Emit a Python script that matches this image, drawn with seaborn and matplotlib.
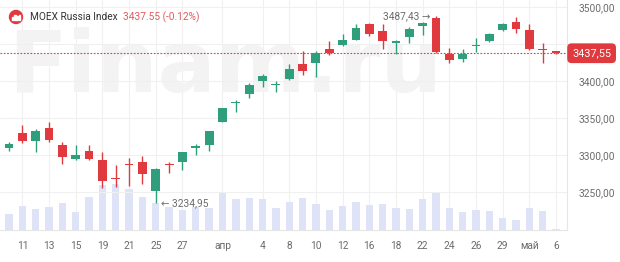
import matplotlib
matplotlib.use("Agg")
import matplotlib.pyplot as plt
import seaborn as sns
import numpy as np
import pandas as pd
from matplotlib.patches import Ellipse, Rectangle

# ---- data ----
dates = ["07.03", "11.03", "12.03", "13.03", "14.03", "15.03", "18.03", "19.03", "20.03", "21.03",
         "22.03", "25.03", "26.03", "27.03", "28.03", "29.03", "01.04", "02.04", "03.04", "04.04",
         "05.04", "08.04", "09.04", "10.04", "11.04", "12.04", "15.04", "16.04", "17.04", "18.04",
         "19.04", "22.04", "23.04", "24.04", "25.04", "26.04", "27.04", "29.04", "30.04", "02.05",
         "03.05", "06.05"]
opens = [3310, 3330, 3319, 3336, 3314, 3295, 3305, 3293, 3269, 3288,
         3291, 3251, 3287, 3291, 3309, 3313, 3345, 3370, 3382, 3400,
         3394, 3403, 3423, 3424, 3443, 3448, 3456, 3477, 3468, 3452,
         3460, 3475, 3485, 3437, 3430, 3447, 3454, 3469, 3480, 3469,
         3443, 3440]
highs = [3318, 3340, 3335, 3344, 3318, 3313, 3313, 3304, 3286, 3296,
         3299, 3282, 3291, 3304, 3315, 3333, 3364, 3375, 3397, 3410,
         3400, 3423, 3441, 3440, 3454, 3463, 3477, 3478, 3477, 3456,
         3473, 3480, 3487.43, 3444, 3443, 3458, 3465, 3479, 3486, 3477,
         3451, 3441]
lows = [3305, 3316, 3304, 3317, 3288, 3293, 3293, 3255, 3257, 3258,
        3261, 3234.95, 3276, 3280, 3300, 3305, 3344, 3358, 3377, 3392,
        3385, 3402, 3408, 3406, 3435, 3447, 3455, 3461, 3443, 3437,
        3452, 3462, 3438, 3424, 3426, 3439, 3453, 3468, 3465, 3442,
        3425, 3436]
closes = [3315, 3319, 3332, 3320, 3297, 3300, 3295, 3265, 3267, 3287,
          3274, 3281, 3286, 3304, 3312, 3332, 3363, 3371, 3395, 3407,
          3395, 3416, 3413, 3438, 3438, 3455, 3471, 3463, 3454, 3454,
          3470, 3479, 3439, 3428, 3437, 3449, 3464, 3477, 3470, 3443,
          3442, 3437.55]
volumes = [15.7, 24, 21, 23.3, 26.7, 18.3, 33.3, 45, 46, 41,
           33.3, 27.3, 23.3, 20, 23.3, 22.3, 38.3, 31, 32.3, 31,
           22.3, 27.7, 32.5, 26, 20, 24, 28.3, 25.3, 26, 21.7,
           20.7, 31, 38, 22.3, 18.3, 20, 19, 12.3, 10, 21.7,
           19, 1]
tick_pos = [1, 3, 5, 7, 9, 11, 13, 16, 19, 21, 23, 25, 27, 29, 31, 33, 35, 37, 39, 41]
tick_labels = ["11", "13", "15", "19", "21", "25", "27", "апр", "4", "8", "10", "12",
               "16", "18", "22", "24", "26", "29", "май", "6"]
price_ticks = [3250, 3300, 3350, 3400, 3450, 3500]
price_labels = ["3250,00", "3300,00", "3350,00", "3400,00", "", "3500,00"]  # 3450 hidden by price tag
last_price = 3437.55
title = "MOEX Russia Index"
subtitle = "3437.55 (-0.12%)"
max_label = "3487,43"
min_label = "3234,95"

GREEN = "#2f9e7c"
RED = "#e0393e"
VOL = "#dfe3f8"
GRID = "#f0f0f0"
TXT = "#6b6b6b"

sns.set_theme(style="white")
plt.rcParams["font.family"] = ["Roboto", "DejaVu Sans"]

df = pd.DataFrame({"i": np.arange(len(dates)), "date": dates, "open": opens, "high": highs,
                   "low": lows, "close": closes, "volume": volumes})
df["up"] = df["close"] >= df["open"]

fig = plt.figure(figsize=(6.2, 2.62), dpi=100)
ax = fig.add_axes([0.0, 32 / 262, 567 / 620, 230 / 262])
axv = ax.twinx()
ax.set_zorder(axv.get_zorder() + 1)
ax.patch.set_visible(False)

# volume bars (background)
sns.barplot(data=df, x="i", y="volume", native_scale=True, color=VOL, saturation=1,
            width=0.55, ax=axv, linewidth=0)
axv.set_ylim(0, 230)
axv.set_yticks([])
axv.set_ylabel("")
axv.set_xlabel("")
for s in axv.spines.values():
    s.set_visible(False)

for p in tick_pos:
    axv.axvline(p, color=GRID, lw=0.8, zorder=0)

# watermark
axv.text(0.015, 0.60, "Finam.ru", transform=axv.transAxes, fontsize=62, fontweight="bold",
         color="#f3f3f3", family="DejaVu Sans", ha="left", va="baseline", zorder=0)

# candles
colors = [GREEN if u else RED for u in df["up"]]
ax.vlines(df["i"], df["low"], df["high"], colors=colors, lw=1.0, zorder=3)
body_bottom = np.minimum(df["open"], df["close"])
body_h = np.maximum(np.abs(df["close"] - df["open"]), 1.3)
ax.bar(df["i"], body_h, bottom=body_bottom, width=0.66, color=colors, zorder=4, linewidth=0)

ax.set_xlim(-0.675, 41.82)
ax.set_ylim(3198.6, 3509.5)
for p in price_ticks:
    ax.axhline(p, color=GRID, lw=0.8, zorder=0)

ax.yaxis.tick_right()
ax.set_yticks(price_ticks)
ax.set_yticklabels(price_labels)
ax.set_xticks(tick_pos)
ax.set_xticklabels(tick_labels)
ax.tick_params(axis="y", length=0, pad=8, labelsize=7.3, labelcolor=TXT)
ax.tick_params(axis="x", length=0, pad=8, labelsize=7.3, labelcolor=TXT)
ax.set_xlabel("")
ax.set_ylabel("")
for k, s in ax.spines.items():
    s.set_visible(k in ("right", "bottom"))
    s.set_color("#e6e6e6")
    s.set_linewidth(0.8)

# last price line and label
ax.axhline(last_price, color=RED, lw=0.8, ls=(0, (1.5, 1.5)), zorder=2)
ax.text(1.009, last_price, f"{last_price:.2f}".replace(".", ","), transform=ax.get_yaxis_transform(),
        ha="left", va="center", fontsize=7.8, color="white", zorder=10, clip_on=False,
        bbox=dict(boxstyle="round,pad=0.45,rounding_size=0.4", fc=RED, ec="none"))

# max / min annotations
ax.text(32 - 0.45, 3487.43, max_label + " →", ha="right", va="center", fontsize=7.3,
        color=TXT, zorder=6)
ax.text(11 + 0.4, 3234.95, "← " + min_label, ha="left", va="center", fontsize=7.3,
        color=TXT, zorder=6)

# header
cx, cy = 16 / 620, 1 - 17 / 262
fig.add_artist(Ellipse((cx, cy), 13 / 620, 13 / 262, transform=fig.transFigure,
                       color=RED, zorder=20))
for dx, h in [(-3.5, 3), (-1.2, 4.5), (1.2, 3.5), (3.5, 5)]:
    fig.add_artist(Rectangle(((16 + dx - 0.8) / 620, (262 - 17 - 2.5) / 262), 1.6 / 620, h / 262,
                             transform=fig.transFigure, color="white", zorder=21))
t1 = fig.text(30 / 620, cy, title, ha="left", va="center", fontsize=7.3, color="#333333",
              zorder=20)
ax.annotate(subtitle, xy=(1, 0.5), xycoords=t1, xytext=(4, 0), textcoords="offset points",
            ha="left", va="center", fontsize=7.3, color="#e05a5e", zorder=20,
            annotation_clip=False)

fig.savefig("out.png", dpi=100)
